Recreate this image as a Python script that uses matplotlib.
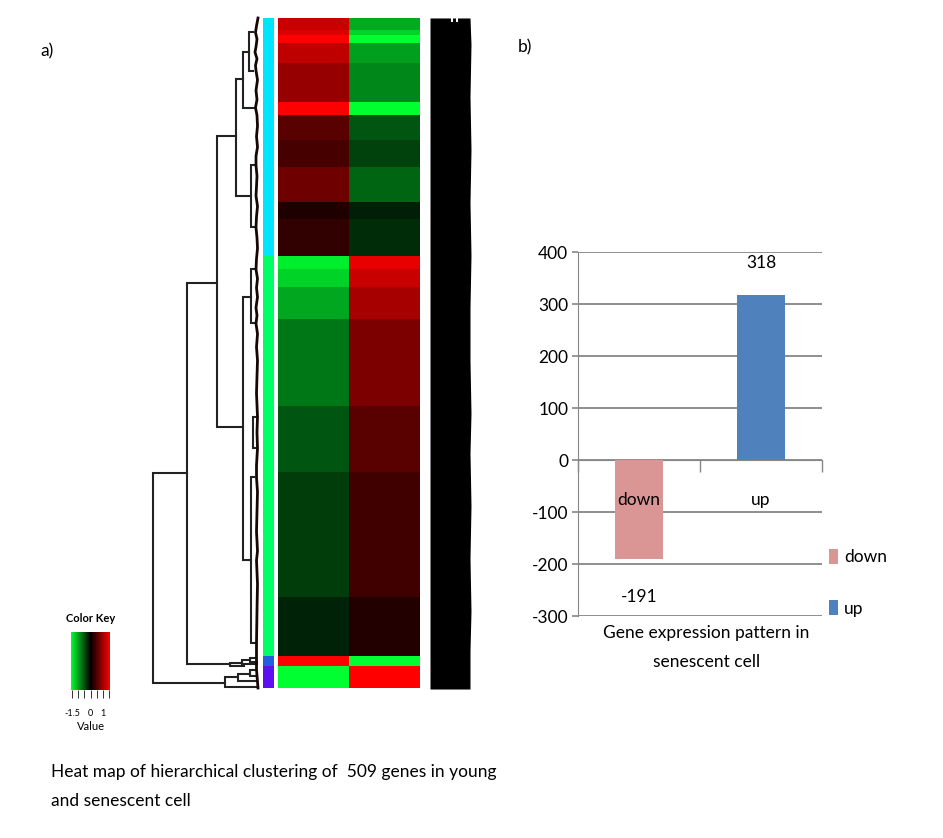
import numpy as np
import matplotlib as mpl
mpl.use('Agg')
import matplotlib.pyplot as plt
from matplotlib.cm import ScalarMappable
from matplotlib.colors import LinearSegmentedColormap, Normalize

plt.rcParams['font.family'] = ['Lato', 'DejaVu Sans']

# heat map, one entry per band of similar genes
band_genes = [9, 4, 6, 15, 30, 10, 19, 20, 27, 13, 28, 10, 13, 25, 66, 50, 95, 45, 7, 17]
young = [1.25, 1.38, 1.6, 1.19, 0.94, 1.6, 0.56, 0.44, 0.69, 0.19, 0.31,
         -1.5, -1.32, -1.04, -0.75, -0.53, -0.38, -0.22, 1.6, -1.6]
senescent = [-1.07, -1.32, -1.6, -1.0, -0.85, -1.6, -0.53, -0.41, -0.63, -0.19, -0.28,
             1.44, 1.25, 1.04, 0.78, 0.56, 0.41, 0.22, -1.6, 1.6]

cluster_sizes = [181, 304, 7, 17]
cluster_colors = ['#00e5ff', '#00ff66', '#2060e0', '#6010f0']

# dendrogram merges: height, row a, height of a, row b, height of b
merges = [
    (105, 346, 71, 505, 33),
    (71, 201, 41, 491, 28),
    (41, 90, 22, 311, 15),
    (22, 46, 15, 135, 7),
    (15, 26, 9, 68, 4),
    (9, 11, 5, 40, 5),
    (7, 112, 3, 159, 3),
    (15, 212, 7, 412, 7),
    (7, 191, 3, 232, 3),
    (7, 349, 4, 475, 2),
    (5, 303, 1, 327, 1),
    (33, 501, 20, 508, 0),
    (20, 498, 8, 504, 1),
    (8, 495, 3, 500, 1),
    (28, 490, 16, 492, 14),
    (16, 488, 8, 491, 1),
    (8, 486, 2, 489, 1),
]
twig_rows = [0, 6, 11, 16, 22, 26, 31, 36, 40, 47, 55, 62, 68, 74, 82, 90, 98, 105, 112, 120,
             128, 135, 143, 151, 159, 167, 175, 183, 191, 198, 205, 212, 220, 226, 232, 240,
             250, 260, 272, 285, 303, 315, 327, 340, 349, 360, 375, 390, 405, 412, 430, 450,
             475, 484, 495, 509]
twig_depth = [0, 1.5, 2.5, 1, 2, 3, 1, 2.5, 2, 0.5, 2, 1, 2.5, 1, 0.5, 1.5, 0.5, 2, 2, 1,
              1.5, 2, 0.5, 1.5, 2, 1, 0.5, 1.5, 2, 0.5, 1.5, 0.5, 2, 1, 2, 0.5,
              1.5, 0.5, 1, 1.5, 0.5, 1, 0.5, 1.5, 1.5, 0.5, 1, 1.5, 0.5, 1.5, 0.5, 1,
              1.5, 1.5, 1.5, 0]

# gene label column, overprinted until it reads as a black block
label_rows = [0, 20, 60, 100, 140, 180, 220, 260, 300, 330, 370, 410, 450, 480, 509]
label_len = [40, 41, 40, 41, 40, 41, 40, 40, 41, 40, 41, 40, 41, 40, 40]
label_gaps = [22, 27]

key_ticks = [-1.5, -1, -0.5, 0, 0.5, 1, 1.5]
key_labels = ['-1.5', '', '', '0', '', '1', '']

# bar chart
categories = ['down', 'up']
counts = [-191, 318]
bar_colors = ['#d99694', '#4f81bd']
y_ticks = [-300, -200, -100, 0, 100, 200, 300, 400]

W, H = 943, 838
fig = plt.figure(figsize=(W / 100, H / 100), dpi=100, facecolor='white')


def px_axes(x0, y0, x1, y1):
    return fig.add_axes([x0 / W, 1 - y1 / H, (x1 - x0) / W, (y1 - y0) / H])


edges = np.concatenate([[0], np.cumsum(band_genes)])
cmap = LinearSegmentedColormap.from_list('gbr', ['#00ff30', '#000000', '#ff0000'])
norm = Normalize(-1.6, 1.6)

ax = px_axes(278, 18, 420, 688)
ax.pcolormesh([0, 1, 2], edges, np.array([young, senescent]).T, cmap=cmap, norm=norm)
ax.set_ylim(509, 0)
ax.axis('off')

side = px_axes(263, 18, 274, 688)
bottom = 0
for size, c in zip(cluster_sizes, cluster_colors):
    side.bar(0, size, bottom=bottom, width=1, color=c)
    bottom += size
side.set_xlim(-0.5, 0.5)
side.set_ylim(509, 0)
side.axis('off')

dend = px_axes(150, 18, 258, 688)
for h, ra, ha, rb, hb in merges:
    dend.plot([ha, h, h, hb], [ra, ra, rb, rb], color='#222222', lw=1.5,
              solid_joinstyle='miter', clip_on=False)
dend.plot(twig_depth, twig_rows, color='#1a0505', lw=2, clip_on=False)
dend.set_xlim(108, 0)
dend.set_ylim(509, 0)
dend.axis('off')

lab = px_axes(430, 16, 472, 691)
lab.fill_betweenx(label_rows, 0, label_len, color='black', lw=0)
lab.vlines(label_gaps, -1.5, 3, color='white', lw=1.5)
lab.set_xlim(0, 42)
lab.set_ylim(510.5, -1.5)
lab.axis('off')

key = px_axes(71, 632, 110, 690)
cb = fig.colorbar(ScalarMappable(norm=norm, cmap=cmap), cax=key, orientation='horizontal')
cb.outline.set_visible(False)
cb.set_ticks(key_ticks, labels=key_labels)
cb.ax.tick_params(length=6, width=0.7, labelsize=6.5, pad=8, color='#333333')
cb.set_label('Value', fontsize=8, labelpad=2)
key.set_title('Color Key', fontsize=8, fontweight='bold', pad=7)

bx = px_axes(578, 252, 822, 616)
bars = bx.bar(categories, counts, width=0.4, color=bar_colors, zorder=3)
bx.set_xlim(-0.5, 1.5)
bx.set_ylim(-300, 400)
bx.set_yticks(y_ticks)
bx.set_yticklabels([str(v) for v in y_ticks], fontsize=12.5)
bx.set_xticks([-0.5, 0.5, 1.5])
bx.set_xticklabels(['', '', ''])
bx.tick_params(axis='x', length=8.6, width=1, color='#868686')
bx.tick_params(axis='y', length=4, width=1.2, color='#868686', pad=3)
bx.grid(axis='y', color='#868686', lw=1.3, zorder=0)
bx.set_axisbelow(True)
for s in ['top', 'right']:
    bx.spines[s].set_visible(False)
bx.spines['left'].set_color('#868686')
bx.spines['bottom'].set_color('#868686')
bx.spines['bottom'].set_position(('data', 0))
for i, name in enumerate(categories):
    bx.text(i, -77, name, ha='center', va='center', fontsize=12.5, zorder=4)
bx.annotate(str(counts[0]), (0, counts[0]), xytext=(0, -27), textcoords='offset points',
            ha='center', va='center', fontsize=12.5)
bx.annotate(str(counts[1]), (1, counts[1]), xytext=(0, 23), textcoords='offset points',
            ha='center', va='center', fontsize=12.5)
bx.text(0.525, -0.025, 'Gene expression pattern in\nsenescent cell', transform=bx.transAxes,
        ha='center', va='top', fontsize=12.5, linespacing=2.0)
bx.legend(bars, categories, loc='upper left', bbox_to_anchor=(829 / W, 1 - 549 / H),
          bbox_transform=fig.transFigure, frameon=False, fontsize=12.5, handlelength=0.5,
          handleheight=0.95, handletextpad=0.35, labelspacing=2.0, borderpad=0, borderaxespad=0)

fig.text(40 / W, 1 - 51 / H, 'a)', fontsize=12.5, va='center')
fig.text(518 / W, 1 - 47 / H, 'b)', fontsize=12.5, va='center')
fig.text(51 / W, 1 - 786 / H, 'Heat map of hierarchical clustering of  509 genes in young\nand senescent cell',
         fontsize=12.5, va='center', linespacing=2.0)

fig.savefig('out.png', dpi=100)
